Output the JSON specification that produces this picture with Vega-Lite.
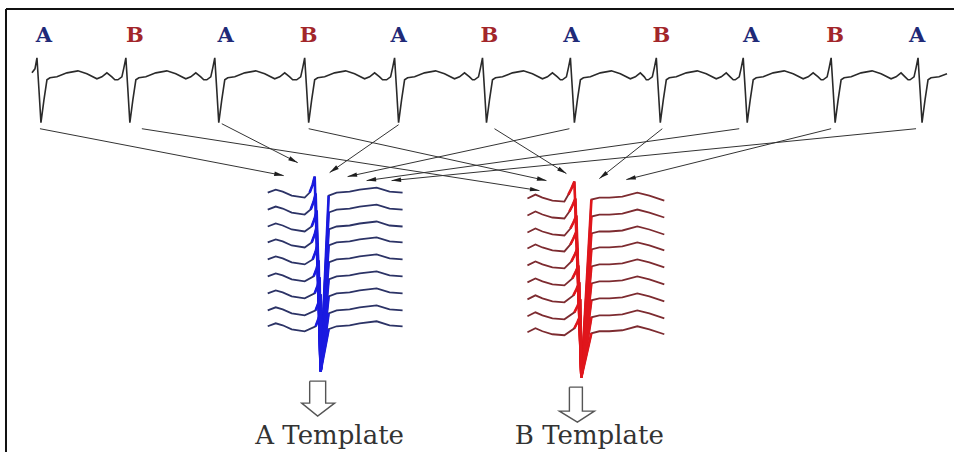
{
  "$schema": "https://vega.github.io/schema/vega-lite/v6.json",
  "width": 955,
  "height": 453,
  "autosize": {"type": "fit", "contains": "padding"},
  "padding": 0,
  "background": "white",
  "config": {"view": {"stroke": null}},
  "datasets": {
    "frame": [
      {"x": 6, "y": 9, "x2": 955, "y2": 9},
      {"x": 6, "y": 9, "x2": 6, "y2": 453}
    ],
    "ecg": [
      {"x": 32, "y": 73}, {"x": 35, "y": 69},
      {"x": 37, "y": 58}, {"x": 39, "y": 90}, {"x": 41, "y": 123}, {"x": 44, "y": 100}, {"x": 47, "y": 80}, {"x": 50, "y": 78}, {"x": 57, "y": 77}, {"x": 67, "y": 73}, {"x": 78, "y": 71}, {"x": 87, "y": 74}, {"x": 97, "y": 79}, {"x": 102, "y": 77}, {"x": 107, "y": 73}, {"x": 112, "y": 77}, {"x": 115, "y": 80}, {"x": 118, "y": 80}, {"x": 122, "y": 77}, {"x": 124, "y": 68},
      {"x": 126, "y": 58}, {"x": 128, "y": 90}, {"x": 130, "y": 123}, {"x": 133, "y": 100}, {"x": 136, "y": 80}, {"x": 139, "y": 78}, {"x": 146, "y": 77}, {"x": 156, "y": 73}, {"x": 167, "y": 71}, {"x": 176, "y": 74}, {"x": 186, "y": 79}, {"x": 191, "y": 77}, {"x": 196, "y": 73}, {"x": 201, "y": 77}, {"x": 204, "y": 80}, {"x": 207, "y": 80}, {"x": 211, "y": 77}, {"x": 213, "y": 68},
      {"x": 215, "y": 58}, {"x": 217, "y": 90}, {"x": 219, "y": 123}, {"x": 222, "y": 100}, {"x": 225, "y": 80}, {"x": 228, "y": 78}, {"x": 235, "y": 77}, {"x": 245, "y": 73}, {"x": 256, "y": 71}, {"x": 265, "y": 74}, {"x": 275, "y": 79}, {"x": 280, "y": 77}, {"x": 285, "y": 73}, {"x": 290, "y": 77}, {"x": 293, "y": 80}, {"x": 297, "y": 80}, {"x": 301, "y": 77}, {"x": 303, "y": 68},
      {"x": 305, "y": 58}, {"x": 307, "y": 90}, {"x": 309, "y": 123}, {"x": 312, "y": 100}, {"x": 315, "y": 80}, {"x": 318, "y": 78}, {"x": 325, "y": 77}, {"x": 335, "y": 73}, {"x": 346, "y": 71}, {"x": 355, "y": 74}, {"x": 365, "y": 79}, {"x": 370, "y": 77}, {"x": 375, "y": 73}, {"x": 380, "y": 77}, {"x": 383, "y": 80}, {"x": 387, "y": 80}, {"x": 391, "y": 77}, {"x": 393, "y": 68},
      {"x": 395, "y": 58}, {"x": 397, "y": 90}, {"x": 399, "y": 123}, {"x": 402, "y": 100}, {"x": 405, "y": 80}, {"x": 408, "y": 78}, {"x": 415, "y": 77}, {"x": 425, "y": 73}, {"x": 436, "y": 71}, {"x": 445, "y": 74}, {"x": 455, "y": 79}, {"x": 460, "y": 77}, {"x": 465, "y": 73}, {"x": 470, "y": 77}, {"x": 473, "y": 80}, {"x": 475, "y": 80}, {"x": 479, "y": 77}, {"x": 481, "y": 68},
      {"x": 483, "y": 58}, {"x": 485, "y": 90}, {"x": 487, "y": 123}, {"x": 490, "y": 100}, {"x": 493, "y": 80}, {"x": 496, "y": 78}, {"x": 503, "y": 77}, {"x": 513, "y": 73}, {"x": 524, "y": 71}, {"x": 533, "y": 74}, {"x": 543, "y": 79}, {"x": 548, "y": 77}, {"x": 553, "y": 73}, {"x": 558, "y": 77}, {"x": 561, "y": 80}, {"x": 563, "y": 80}, {"x": 567, "y": 77}, {"x": 569, "y": 68},
      {"x": 571, "y": 58}, {"x": 573, "y": 90}, {"x": 575, "y": 123}, {"x": 578, "y": 100}, {"x": 581, "y": 80}, {"x": 584, "y": 78}, {"x": 591, "y": 77}, {"x": 601, "y": 73}, {"x": 612, "y": 71}, {"x": 621, "y": 74}, {"x": 631, "y": 79}, {"x": 636, "y": 77}, {"x": 641, "y": 73}, {"x": 645, "y": 77}, {"x": 647, "y": 80}, {"x": 649, "y": 80}, {"x": 653, "y": 77}, {"x": 655, "y": 68},
      {"x": 657, "y": 58}, {"x": 659, "y": 90}, {"x": 661, "y": 123}, {"x": 664, "y": 100}, {"x": 667, "y": 80}, {"x": 670, "y": 78}, {"x": 677, "y": 77}, {"x": 687, "y": 73}, {"x": 698, "y": 71}, {"x": 707, "y": 74}, {"x": 717, "y": 79}, {"x": 722, "y": 77}, {"x": 727, "y": 73}, {"x": 731, "y": 77}, {"x": 734, "y": 80}, {"x": 736, "y": 80}, {"x": 740, "y": 77}, {"x": 742, "y": 68},
      {"x": 744, "y": 58}, {"x": 746, "y": 90}, {"x": 748, "y": 123}, {"x": 751, "y": 100}, {"x": 754, "y": 80}, {"x": 757, "y": 78}, {"x": 764, "y": 77}, {"x": 774, "y": 73}, {"x": 785, "y": 71}, {"x": 794, "y": 74}, {"x": 804, "y": 79}, {"x": 809, "y": 77}, {"x": 814, "y": 73}, {"x": 819, "y": 77}, {"x": 822, "y": 80}, {"x": 824, "y": 80}, {"x": 828, "y": 77}, {"x": 830, "y": 68},
      {"x": 832, "y": 58}, {"x": 834, "y": 90}, {"x": 836, "y": 123}, {"x": 839, "y": 100}, {"x": 842, "y": 80}, {"x": 845, "y": 78}, {"x": 852, "y": 77}, {"x": 862, "y": 73}, {"x": 873, "y": 71}, {"x": 882, "y": 74}, {"x": 892, "y": 79}, {"x": 897, "y": 77}, {"x": 902, "y": 73}, {"x": 906, "y": 77}, {"x": 909, "y": 80}, {"x": 911, "y": 80}, {"x": 915, "y": 77}, {"x": 917, "y": 68},
      {"x": 919, "y": 58}, {"x": 921, "y": 90}, {"x": 923, "y": 123}, {"x": 926, "y": 100}, {"x": 929, "y": 80}, {"x": 932, "y": 78}, {"x": 940, "y": 77}, {"x": 948, "y": 74}
    ],
    "links": [
      {"x": 40, "y": 129, "x2": 284, "y2": 176},
      {"x": 222, "y": 124, "x2": 298, "y2": 163},
      {"x": 399, "y": 125, "x2": 330, "y2": 173},
      {"x": 570, "y": 129, "x2": 348, "y2": 177},
      {"x": 740, "y": 129, "x2": 367, "y2": 181},
      {"x": 917, "y": 129, "x2": 392, "y2": 181},
      {"x": 142, "y": 129, "x2": 540, "y2": 191},
      {"x": 309, "y": 129, "x2": 547, "y2": 181},
      {"x": 495, "y": 129, "x2": 567, "y2": 174},
      {"x": 663, "y": 129, "x2": 600, "y2": 179},
      {"x": 832, "y": 129, "x2": 627, "y2": 180}
    ],
    "tplA": [
      {"s": 0, "x": 268, "y": 193}, {"s": 0, "x": 276, "y": 190}, {"s": 0, "x": 283, "y": 192}, {"s": 0, "x": 292, "y": 196}, {"s": 0, "x": 305, "y": 198}, {"s": 0, "x": 310, "y": 193, "q": 1}, {"s": 0, "x": 313, "y": 185, "q": 1}, {"s": 0, "x": 315, "y": 177, "q": 1}, {"s": 0, "x": 321, "y": 372, "q": 1}, {"s": 0, "x": 329, "y": 196, "q": 1}, {"s": 0, "x": 337, "y": 193}, {"s": 0, "x": 350, "y": 192}, {"s": 0, "x": 360, "y": 190}, {"s": 0, "x": 377, "y": 188}, {"s": 0, "x": 390, "y": 192}, {"s": 0, "x": 403, "y": 193},
      {"s": 1, "x": 268, "y": 210}, {"s": 1, "x": 276, "y": 207}, {"s": 1, "x": 283, "y": 209}, {"s": 1, "x": 292, "y": 213}, {"s": 1, "x": 305, "y": 215}, {"s": 1, "x": 311, "y": 210, "q": 1}, {"s": 1, "x": 314, "y": 202, "q": 1}, {"s": 1, "x": 316, "y": 194, "q": 1}, {"s": 1, "x": 321, "y": 372, "q": 1}, {"s": 1, "x": 329, "y": 213, "q": 1}, {"s": 1, "x": 337, "y": 210}, {"s": 1, "x": 350, "y": 209}, {"s": 1, "x": 360, "y": 207}, {"s": 1, "x": 377, "y": 205}, {"s": 1, "x": 390, "y": 209}, {"s": 1, "x": 403, "y": 210},
      {"s": 2, "x": 268, "y": 227}, {"s": 2, "x": 276, "y": 224}, {"s": 2, "x": 283, "y": 226}, {"s": 2, "x": 292, "y": 230}, {"s": 2, "x": 305, "y": 232}, {"s": 2, "x": 312, "y": 227, "q": 1}, {"s": 2, "x": 315, "y": 219, "q": 1}, {"s": 2, "x": 317, "y": 211, "q": 1}, {"s": 2, "x": 321, "y": 372, "q": 1}, {"s": 2, "x": 329, "y": 230, "q": 1}, {"s": 2, "x": 337, "y": 227}, {"s": 2, "x": 350, "y": 226}, {"s": 2, "x": 360, "y": 224}, {"s": 2, "x": 377, "y": 222}, {"s": 2, "x": 390, "y": 226}, {"s": 2, "x": 403, "y": 227},
      {"s": 3, "x": 268, "y": 243}, {"s": 3, "x": 276, "y": 240}, {"s": 3, "x": 283, "y": 242}, {"s": 3, "x": 292, "y": 246}, {"s": 3, "x": 305, "y": 248}, {"s": 3, "x": 312, "y": 243, "q": 1}, {"s": 3, "x": 315, "y": 235, "q": 1}, {"s": 3, "x": 317, "y": 227, "q": 1}, {"s": 3, "x": 321, "y": 372, "q": 1}, {"s": 3, "x": 329, "y": 246, "q": 1}, {"s": 3, "x": 337, "y": 243}, {"s": 3, "x": 350, "y": 242}, {"s": 3, "x": 360, "y": 240}, {"s": 3, "x": 377, "y": 238}, {"s": 3, "x": 390, "y": 242}, {"s": 3, "x": 403, "y": 243},
      {"s": 4, "x": 268, "y": 260}, {"s": 4, "x": 276, "y": 257}, {"s": 4, "x": 283, "y": 259}, {"s": 4, "x": 292, "y": 263}, {"s": 4, "x": 305, "y": 265}, {"s": 4, "x": 313, "y": 260, "q": 1}, {"s": 4, "x": 316, "y": 252, "q": 1}, {"s": 4, "x": 318, "y": 244, "q": 1}, {"s": 4, "x": 321, "y": 372, "q": 1}, {"s": 4, "x": 329, "y": 263, "q": 1}, {"s": 4, "x": 337, "y": 260}, {"s": 4, "x": 350, "y": 259}, {"s": 4, "x": 360, "y": 257}, {"s": 4, "x": 377, "y": 255}, {"s": 4, "x": 390, "y": 259}, {"s": 4, "x": 403, "y": 260},
      {"s": 5, "x": 268, "y": 277}, {"s": 5, "x": 276, "y": 274}, {"s": 5, "x": 283, "y": 276}, {"s": 5, "x": 292, "y": 280}, {"s": 5, "x": 305, "y": 282}, {"s": 5, "x": 314, "y": 277, "q": 1}, {"s": 5, "x": 317, "y": 269, "q": 1}, {"s": 5, "x": 319, "y": 261, "q": 1}, {"s": 5, "x": 321, "y": 372, "q": 1}, {"s": 5, "x": 329, "y": 280, "q": 1}, {"s": 5, "x": 337, "y": 277}, {"s": 5, "x": 350, "y": 276}, {"s": 5, "x": 360, "y": 274}, {"s": 5, "x": 377, "y": 272}, {"s": 5, "x": 390, "y": 276}, {"s": 5, "x": 403, "y": 277},
      {"s": 6, "x": 268, "y": 294}, {"s": 6, "x": 276, "y": 291}, {"s": 6, "x": 283, "y": 293}, {"s": 6, "x": 292, "y": 297}, {"s": 6, "x": 305, "y": 299}, {"s": 6, "x": 315, "y": 294, "q": 1}, {"s": 6, "x": 318, "y": 286, "q": 1}, {"s": 6, "x": 320, "y": 278, "q": 1}, {"s": 6, "x": 321, "y": 372, "q": 1}, {"s": 6, "x": 329, "y": 297, "q": 1}, {"s": 6, "x": 337, "y": 294}, {"s": 6, "x": 350, "y": 293}, {"s": 6, "x": 360, "y": 291}, {"s": 6, "x": 377, "y": 289}, {"s": 6, "x": 390, "y": 293}, {"s": 6, "x": 403, "y": 294},
      {"s": 7, "x": 268, "y": 311}, {"s": 7, "x": 276, "y": 308}, {"s": 7, "x": 283, "y": 310}, {"s": 7, "x": 292, "y": 314}, {"s": 7, "x": 305, "y": 316}, {"s": 7, "x": 316, "y": 311, "q": 1}, {"s": 7, "x": 319, "y": 303, "q": 1}, {"s": 7, "x": 321, "y": 295, "q": 1}, {"s": 7, "x": 321, "y": 372, "q": 1}, {"s": 7, "x": 329, "y": 314, "q": 1}, {"s": 7, "x": 337, "y": 311}, {"s": 7, "x": 350, "y": 310}, {"s": 7, "x": 360, "y": 308}, {"s": 7, "x": 377, "y": 306}, {"s": 7, "x": 390, "y": 310}, {"s": 7, "x": 403, "y": 311},
      {"s": 8, "x": 268, "y": 327}, {"s": 8, "x": 276, "y": 324}, {"s": 8, "x": 283, "y": 326}, {"s": 8, "x": 292, "y": 330}, {"s": 8, "x": 305, "y": 332}, {"s": 8, "x": 316, "y": 327, "q": 1}, {"s": 8, "x": 319, "y": 319, "q": 1}, {"s": 8, "x": 321, "y": 311, "q": 1}, {"s": 8, "x": 321, "y": 372, "q": 1}, {"s": 8, "x": 329, "y": 330, "q": 1}, {"s": 8, "x": 337, "y": 327}, {"s": 8, "x": 350, "y": 326}, {"s": 8, "x": 360, "y": 324}, {"s": 8, "x": 377, "y": 322}, {"s": 8, "x": 390, "y": 326}, {"s": 8, "x": 403, "y": 327}
    ],
    "tplB": [
      {"s": 0, "x": 528, "y": 199}, {"s": 0, "x": 536, "y": 195}, {"s": 0, "x": 543, "y": 198}, {"s": 0, "x": 553, "y": 201}, {"s": 0, "x": 565, "y": 202}, {"s": 0, "x": 569, "y": 195, "q": 1}, {"s": 0, "x": 572, "y": 189, "q": 1}, {"s": 0, "x": 575, "y": 182, "q": 1}, {"s": 0, "x": 582, "y": 378, "q": 1}, {"s": 0, "x": 592, "y": 200, "q": 1}, {"s": 0, "x": 600, "y": 198}, {"s": 0, "x": 610, "y": 198}, {"s": 0, "x": 623, "y": 197}, {"s": 0, "x": 638, "y": 193}, {"s": 0, "x": 650, "y": 196}, {"s": 0, "x": 665, "y": 201},
      {"s": 1, "x": 528, "y": 216}, {"s": 1, "x": 536, "y": 212}, {"s": 1, "x": 543, "y": 215}, {"s": 1, "x": 553, "y": 218}, {"s": 1, "x": 565, "y": 219}, {"s": 1, "x": 570, "y": 212, "q": 1}, {"s": 1, "x": 573, "y": 206, "q": 1}, {"s": 1, "x": 576, "y": 199, "q": 1}, {"s": 1, "x": 582, "y": 378, "q": 1}, {"s": 1, "x": 592, "y": 217, "q": 1}, {"s": 1, "x": 600, "y": 215}, {"s": 1, "x": 610, "y": 215}, {"s": 1, "x": 623, "y": 214}, {"s": 1, "x": 638, "y": 210}, {"s": 1, "x": 650, "y": 213}, {"s": 1, "x": 665, "y": 218},
      {"s": 2, "x": 528, "y": 233}, {"s": 2, "x": 536, "y": 229}, {"s": 2, "x": 543, "y": 232}, {"s": 2, "x": 553, "y": 235}, {"s": 2, "x": 565, "y": 236}, {"s": 2, "x": 571, "y": 229, "q": 1}, {"s": 2, "x": 574, "y": 223, "q": 1}, {"s": 2, "x": 577, "y": 216, "q": 1}, {"s": 2, "x": 582, "y": 378, "q": 1}, {"s": 2, "x": 592, "y": 234, "q": 1}, {"s": 2, "x": 600, "y": 232}, {"s": 2, "x": 610, "y": 232}, {"s": 2, "x": 623, "y": 231}, {"s": 2, "x": 638, "y": 227}, {"s": 2, "x": 650, "y": 230}, {"s": 2, "x": 665, "y": 235},
      {"s": 3, "x": 528, "y": 249}, {"s": 3, "x": 536, "y": 245}, {"s": 3, "x": 543, "y": 248}, {"s": 3, "x": 553, "y": 251}, {"s": 3, "x": 565, "y": 252}, {"s": 3, "x": 571, "y": 245, "q": 1}, {"s": 3, "x": 574, "y": 239, "q": 1}, {"s": 3, "x": 577, "y": 232, "q": 1}, {"s": 3, "x": 582, "y": 378, "q": 1}, {"s": 3, "x": 592, "y": 250, "q": 1}, {"s": 3, "x": 600, "y": 248}, {"s": 3, "x": 610, "y": 248}, {"s": 3, "x": 623, "y": 247}, {"s": 3, "x": 638, "y": 243}, {"s": 3, "x": 650, "y": 246}, {"s": 3, "x": 665, "y": 251},
      {"s": 4, "x": 528, "y": 266}, {"s": 4, "x": 536, "y": 262}, {"s": 4, "x": 543, "y": 265}, {"s": 4, "x": 553, "y": 268}, {"s": 4, "x": 565, "y": 269}, {"s": 4, "x": 572, "y": 262, "q": 1}, {"s": 4, "x": 575, "y": 256, "q": 1}, {"s": 4, "x": 578, "y": 249, "q": 1}, {"s": 4, "x": 582, "y": 378, "q": 1}, {"s": 4, "x": 592, "y": 267, "q": 1}, {"s": 4, "x": 600, "y": 265}, {"s": 4, "x": 610, "y": 265}, {"s": 4, "x": 623, "y": 264}, {"s": 4, "x": 638, "y": 260}, {"s": 4, "x": 650, "y": 263}, {"s": 4, "x": 665, "y": 268},
      {"s": 5, "x": 528, "y": 283}, {"s": 5, "x": 536, "y": 279}, {"s": 5, "x": 543, "y": 282}, {"s": 5, "x": 553, "y": 285}, {"s": 5, "x": 565, "y": 286}, {"s": 5, "x": 573, "y": 279, "q": 1}, {"s": 5, "x": 576, "y": 273, "q": 1}, {"s": 5, "x": 579, "y": 266, "q": 1}, {"s": 5, "x": 582, "y": 378, "q": 1}, {"s": 5, "x": 592, "y": 284, "q": 1}, {"s": 5, "x": 600, "y": 282}, {"s": 5, "x": 610, "y": 282}, {"s": 5, "x": 623, "y": 281}, {"s": 5, "x": 638, "y": 277}, {"s": 5, "x": 650, "y": 280}, {"s": 5, "x": 665, "y": 285},
      {"s": 6, "x": 528, "y": 300}, {"s": 6, "x": 536, "y": 296}, {"s": 6, "x": 543, "y": 299}, {"s": 6, "x": 553, "y": 302}, {"s": 6, "x": 565, "y": 303}, {"s": 6, "x": 574, "y": 296, "q": 1}, {"s": 6, "x": 577, "y": 290, "q": 1}, {"s": 6, "x": 580, "y": 283, "q": 1}, {"s": 6, "x": 582, "y": 378, "q": 1}, {"s": 6, "x": 592, "y": 301, "q": 1}, {"s": 6, "x": 600, "y": 299}, {"s": 6, "x": 610, "y": 299}, {"s": 6, "x": 623, "y": 298}, {"s": 6, "x": 638, "y": 294}, {"s": 6, "x": 650, "y": 297}, {"s": 6, "x": 665, "y": 302},
      {"s": 7, "x": 528, "y": 317}, {"s": 7, "x": 536, "y": 313}, {"s": 7, "x": 543, "y": 316}, {"s": 7, "x": 553, "y": 319}, {"s": 7, "x": 565, "y": 320}, {"s": 7, "x": 575, "y": 313, "q": 1}, {"s": 7, "x": 578, "y": 307, "q": 1}, {"s": 7, "x": 581, "y": 300, "q": 1}, {"s": 7, "x": 582, "y": 378, "q": 1}, {"s": 7, "x": 592, "y": 318, "q": 1}, {"s": 7, "x": 600, "y": 316}, {"s": 7, "x": 610, "y": 316}, {"s": 7, "x": 623, "y": 315}, {"s": 7, "x": 638, "y": 311}, {"s": 7, "x": 650, "y": 314}, {"s": 7, "x": 665, "y": 319},
      {"s": 8, "x": 528, "y": 333}, {"s": 8, "x": 536, "y": 329}, {"s": 8, "x": 543, "y": 332}, {"s": 8, "x": 553, "y": 335}, {"s": 8, "x": 565, "y": 336}, {"s": 8, "x": 575, "y": 329, "q": 1}, {"s": 8, "x": 578, "y": 323, "q": 1}, {"s": 8, "x": 581, "y": 316, "q": 1}, {"s": 8, "x": 582, "y": 378, "q": 1}, {"s": 8, "x": 592, "y": 334, "q": 1}, {"s": 8, "x": 600, "y": 332}, {"s": 8, "x": 610, "y": 332}, {"s": 8, "x": 623, "y": 331}, {"s": 8, "x": 638, "y": 327}, {"s": 8, "x": 650, "y": 330}, {"s": 8, "x": 665, "y": 335}
    ],
    "hollow": [
      {"s": "A", "x": 310, "y": 382}, {"s": "A", "x": 326, "y": 382}, {"s": "A", "x": 326, "y": 404}, {"s": "A", "x": 335, "y": 404}, {"s": "A", "x": 318, "y": 417}, {"s": "A", "x": 302, "y": 404}, {"s": "A", "x": 310, "y": 404}, {"s": "A", "x": 310, "y": 382},
      {"s": "B", "x": 570, "y": 388}, {"s": "B", "x": 583, "y": 388}, {"s": "B", "x": 583, "y": 412}, {"s": "B", "x": 595, "y": 412}, {"s": "B", "x": 578, "y": 423}, {"s": "B", "x": 560, "y": 412}, {"s": "B", "x": 570, "y": 412}, {"s": "B", "x": 570, "y": 388}
    ],
    "beats": [
      {"t": "A", "x": 44, "y": 42}, {"t": "B", "x": 135, "y": 42}, {"t": "A", "x": 226, "y": 42}, {"t": "B", "x": 309, "y": 42}, {"t": "A", "x": 399, "y": 42}, {"t": "B", "x": 490, "y": 42},
      {"t": "A", "x": 572, "y": 42}, {"t": "B", "x": 662, "y": 42}, {"t": "A", "x": 752, "y": 42}, {"t": "B", "x": 836, "y": 42}, {"t": "A", "x": 918, "y": 42}
    ],
    "captions": [
      {"t": "A Template", "x": 330, "y": 445},
      {"t": "B Template", "x": 590, "y": 445}
    ]
  },
  "encoding": {
    "x": {"field": "x", "type": "quantitative", "scale": {"domain": [0, 955], "nice": false, "zero": false}, "axis": null},
    "y": {"field": "y", "type": "quantitative", "scale": {"domain": [0, 453], "reverse": true, "nice": false, "zero": false}, "axis": null}
  },
  "layer": [
    {
      "data": {"name": "frame"},
      "mark": {"type": "rule", "color": "#111111", "strokeWidth": 2},
      "encoding": {"x2": {"field": "x2"}, "y2": {"field": "y2"}}
    },
    {
      "data": {"name": "links"},
      "mark": {"type": "rule", "color": "#333333", "strokeWidth": 1},
      "encoding": {"x2": {"field": "x2"}, "y2": {"field": "y2"}}
    },
    {
      "data": {"name": "links"},
      "transform": [{"calculate": "atan2(datum.x2 - datum.x, datum.y - datum.y2) * 180 / PI", "as": "heading"}],
      "mark": {"type": "point", "shape": "M0,0L0.45,1.9L-0.45,1.9Z", "filled": true, "color": "#1e1e1e", "size": 100, "opacity": 1, "strokeWidth": 0},
      "encoding": {
        "x": {"field": "x2", "type": "quantitative", "scale": {"domain": [0, 955], "nice": false, "zero": false}, "axis": null},
        "y": {"field": "y2", "type": "quantitative", "scale": {"domain": [0, 453], "reverse": true, "nice": false, "zero": false}, "axis": null},
        "angle": {"field": "heading", "type": "quantitative", "scale": null}
      }
    },
    {
      "data": {"name": "ecg"},
      "mark": {"type": "line", "color": "#2a2a2a", "strokeWidth": 1.6},
      "encoding": {"order": {"value": null}}
    },
    {
      "data": {"name": "tplA"},
      "mark": {"type": "line", "color": "#2c3366", "strokeWidth": 1.8},
      "encoding": {"detail": {"field": "s", "type": "nominal"}, "order": {"value": null}}
    },
    {
      "data": {"name": "tplA"},
      "transform": [{"filter": "datum.q == 1"}],
      "mark": {"type": "line", "color": "#1a1ae0", "strokeWidth": 2.6},
      "encoding": {"detail": {"field": "s", "type": "nominal"}, "order": {"value": null}}
    },
    {
      "data": {"name": "tplB"},
      "mark": {"type": "line", "color": "#7d2b30", "strokeWidth": 1.8},
      "encoding": {"detail": {"field": "s", "type": "nominal"}, "order": {"value": null}}
    },
    {
      "data": {"name": "tplB"},
      "transform": [{"filter": "datum.q == 1"}],
      "mark": {"type": "line", "color": "#e0161c", "strokeWidth": 2.6},
      "encoding": {"detail": {"field": "s", "type": "nominal"}, "order": {"value": null}}
    },
    {
      "data": {"name": "hollow"},
      "mark": {"type": "line", "color": "#555555", "strokeWidth": 1.4},
      "encoding": {"detail": {"field": "s", "type": "nominal"}, "order": {"value": null}}
    },
    {
      "data": {"name": "beats"},
      "mark": {"type": "text", "font": "DejaVu Serif", "fontWeight": "bold", "fontSize": 21, "baseline": "alphabetic", "align": "center"},
      "encoding": {
        "text": {"field": "t"},
        "color": {"field": "t", "type": "nominal", "scale": {"domain": ["A", "B"], "range": ["#1f2a78", "#a2262a"]}, "legend": null}
      }
    },
    {
      "data": {"name": "captions"},
      "mark": {"type": "text", "font": "DejaVu Serif", "fontSize": 26, "color": "#333333", "baseline": "alphabetic", "align": "center"},
      "encoding": {"text": {"field": "t"}}
    }
  ]
}
